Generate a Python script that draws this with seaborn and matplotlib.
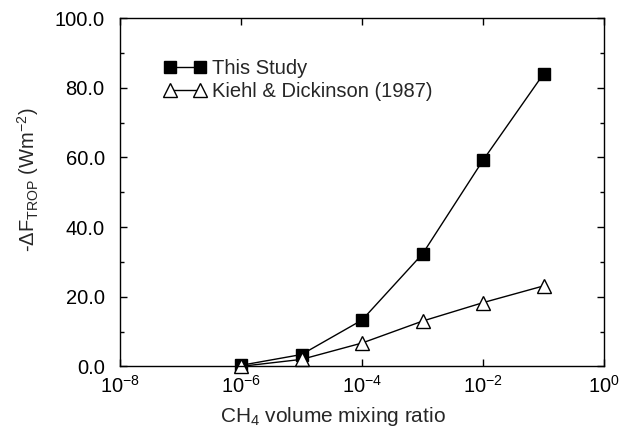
import matplotlib
matplotlib.use("Agg")
import matplotlib.pyplot as plt
import seaborn as sns
import pandas as pd
import numpy as np
from matplotlib.ticker import FixedLocator, MultipleLocator, FuncFormatter

# Data
mixing_ratio = [1e-6, 1e-5, 1e-4, 1e-3, 1e-2, 1e-1]
this_study = [0.3, 3.4, 13.3, 32.3, 59.2, 84.0]
kiehl_dickinson = [0.0, 2.0, 6.7, 13.0, 18.3, 23.1]
series_names = ["This Study", "Kiehl & Dickinson (1987)"]
x_ticks = [1e-8, 1e-6, 1e-4, 1e-2, 1e0]
y_ticks = [0, 20, 40, 60, 80, 100]

df = pd.DataFrame({
    "x": mixing_ratio * 2,
    "y": this_study + kiehl_dickinson,
    "series": [series_names[0]] * len(mixing_ratio) + [series_names[1]] * len(mixing_ratio),
})

sns.set_theme(style="ticks")
plt.rcParams["font.family"] = ["Liberation Sans", "DejaVu Sans"]
plt.rcParams["mathtext.fontset"] = "custom"
plt.rcParams["mathtext.rm"] = "Liberation Sans"
plt.rcParams["mathtext.it"] = "Liberation Sans:italic"

fig = plt.figure(figsize=(6.28, 4.30), dpi=100)
ax = fig.add_axes([0.191, 0.148, 0.771, 0.81])

sns.lineplot(
    data=df, x="x", y="y", hue="series", style="series",
    markers={series_names[0]: "s", series_names[1]: "^"},
    dashes=False,
    palette={series_names[0]: "black", series_names[1]: "black"},
    ax=ax, linewidth=1.0, legend=False,
)
ax.set_xscale("log")

lines = ax.get_lines()
for ln, name in zip(lines, series_names):
    ln.set_clip_on(False)
    ln.set_markeredgecolor("black")
    ln.set_markeredgewidth(1.0)
    if name == series_names[0]:
        ln.set_markerfacecolor("black")
        ln.set_markersize(9)
    else:
        ln.set_markerfacecolor("white")
        ln.set_markersize(10.5)
    ln.set_label(name)

ax.set_xlim(1e-8, 1e0)
ax.set_ylim(0, 100)
ax.xaxis.set_major_locator(FixedLocator(x_ticks))
ax.xaxis.set_minor_locator(FixedLocator([]))
ax.xaxis.set_major_formatter(FuncFormatter(lambda v, p: r"$\mathregular{10^{%d}}$" % int(round(np.log10(v)))))
ax.yaxis.set_major_locator(FixedLocator(y_ticks))
ax.yaxis.set_minor_locator(MultipleLocator(10))
ax.yaxis.set_major_formatter(FuncFormatter(lambda v, p: "%.1f" % v))

ax.tick_params(which="both", direction="in", top=True, right=True, labelsize=14.5, colors="black")
ax.tick_params(which="major", length=5, width=1)
ax.tick_params(which="minor", length=3, width=1)
ax.tick_params(axis="x", pad=6)
ax.tick_params(axis="y", pad=11)
for s in ax.spines.values():
    s.set_linewidth(1.0)
    s.set_color("black")

ax.set_xlabel(r"CH$_4$ volume mixing ratio", fontsize=15)
ax.xaxis.set_label_coords(0.44, -0.11)
ax.set_ylabel(r"-$\Delta$F$_{\mathregular{TROP}}$ (Wm$^{\mathregular{-2}}$)", fontsize=14.5)
ax.yaxis.set_label_coords(-0.163, 0.535)

leg = ax.legend(handles=lines[:2], labels=series_names, loc="upper left",
                bbox_to_anchor=(0.075, 0.905), frameon=False, fontsize=14.5,
                numpoints=2, handlelength=2.05, handletextpad=0.3,
                labelspacing=0.18, borderaxespad=0)

fig.savefig("out.png", dpi=100)
